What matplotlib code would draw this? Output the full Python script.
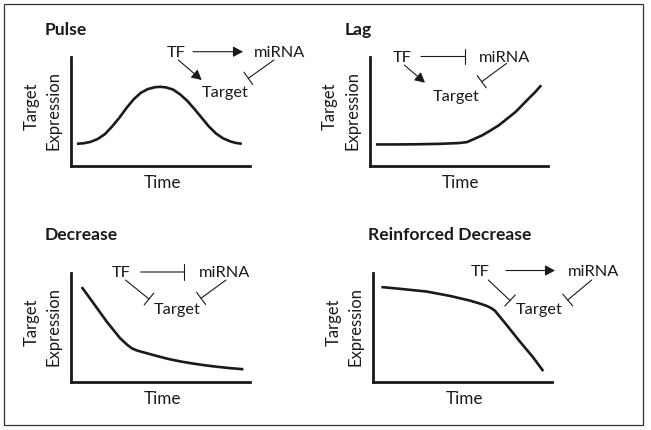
import matplotlib
matplotlib.use('Agg')
import matplotlib.pyplot as plt
from matplotlib.patches import Rectangle

plt.rcParams['font.family'] = ['Lato', 'DejaVu Sans']

W, H = 651, 430
ink = '#1a1a1a'

# curves, time and expression as fractions of each axes
pulse_t = [0.033, 0.07, 0.11, 0.15, 0.19, 0.23, 0.27, 0.31, 0.35, 0.39, 0.43, 0.47, 0.50,
           0.53, 0.57, 0.61, 0.65, 0.69, 0.73, 0.77, 0.81, 0.85, 0.89, 0.92, 0.954]
pulse_y = [0.200, 0.205, 0.218, 0.245, 0.29, 0.36, 0.44, 0.53, 0.61, 0.67, 0.705, 0.722, 0.725,
           0.72, 0.70, 0.655, 0.595, 0.52, 0.44, 0.36, 0.295, 0.25, 0.222, 0.208, 0.200]

lag_t = [0.036, 0.15, 0.283, 0.40, 0.50, 0.545, 0.58, 0.63, 0.67, 0.723, 0.77, 0.817,
         0.855, 0.891, 0.93, 0.962]
lag_y = [0.194, 0.194, 0.196, 0.200, 0.207, 0.215, 0.24, 0.277, 0.315, 0.369, 0.43, 0.492,
         0.555, 0.616, 0.68, 0.739]

dec_t = [0.060, 0.125, 0.199, 0.274, 0.315, 0.339, 0.37, 0.423, 0.49, 0.553, 0.62, 0.683,
         0.75, 0.814, 0.89, 0.963]
dec_y = [0.871, 0.724, 0.555, 0.402, 0.34, 0.310, 0.288, 0.264, 0.234, 0.208, 0.186, 0.169,
         0.153, 0.140, 0.127, 0.117]

rd_t = [0.047, 0.168, 0.299, 0.429, 0.541, 0.60, 0.635, 0.66, 0.681, 0.747, 0.821, 0.895, 0.951]
rd_y = [0.871, 0.852, 0.830, 0.790, 0.747, 0.718, 0.698, 0.678, 0.654, 0.522, 0.37, 0.225, 0.10]

titles = ['Pulse', 'Lag', 'Decrease', 'Reinforced Decrease']
curves = [(pulse_t, pulse_y), (lag_t, lag_y), (dec_t, dec_y), (rd_t, rd_y)]
# axes box in pixels: left, right, bottom, top
boxes = [(71, 250, 165.5, 57), (369.5, 548, 165.5, 57),
         (71, 250, 382, 273), (373, 552, 382, 273)]
title_pos = [(45, 35), (345, 35), (45, 240), (368, 240)]

fig = plt.figure(figsize=(W / 100, H / 100), dpi=100)
canvas = fig.add_axes([0, 0, 1, 1])
canvas.set_xlim(0, W)
canvas.set_ylim(H, 0)
canvas.axis('off')
canvas.add_patch(Rectangle((4, 4), 639, 421, fill=False, ec='#333333', lw=0.9))

for (t, y), (x0, x1, yb, yt), name, (tx, ty) in zip(curves, boxes, titles, title_pos):
    ax = fig.add_axes([x0 / W, (H - yb) / H, (x1 - x0) / W, (yb - yt) / H])
    ax.patch.set_alpha(0)
    ax.plot(t, y, color=ink, lw=1.9, solid_capstyle='butt')
    ax.set_xlim(0, 1)
    ax.set_ylim(0, 1)
    ax.set_xticks([])
    ax.set_yticks([])
    for s in ['top', 'right']:
        ax.spines[s].set_visible(False)
    for s in ['left', 'bottom']:
        ax.spines[s].set_linewidth(2)
        ax.spines[s].set_color(ink)
        ax.spines[s].set_capstyle('projecting')
    canvas.text(tx, ty, name, fontsize=12.6, fontweight='bold', color=ink, ha='left', va='baseline')
    canvas.text((x0 + x1) / 2 + 2, yb + 22, 'Time', fontsize=12.3, color=ink, ha='center', va='baseline')
    mid = (yb + yt) / 2
    canvas.text(x0 - 34.5, mid - 5, 'Target', fontsize=12, color=ink, rotation=90,
                rotation_mode='anchor', ha='center', va='baseline')
    canvas.text(x0 - 12.3, mid - 1, 'Expression', fontsize=12, color=ink, rotation=90,
                rotation_mode='anchor', ha='center', va='baseline')


def label(x, y, s):
    canvas.text(x, y, s, fontsize=11.8, color=ink, ha='center', va='baseline')


def arrow(p0, p1):
    canvas.annotate('', xy=p1, xytext=p0,
                    arrowprops=dict(arrowstyle='-|>,head_length=0.6,head_width=0.32',
                                    color=ink, lw=0.8, shrinkA=0, shrinkB=0, mutation_scale=10))


def inhibit(p0, p1):
    canvas.annotate('', xy=p1, xytext=p0,
                    arrowprops=dict(arrowstyle='|-|,widthA=0,widthB=0.55',
                                    color=ink, lw=0.8, shrinkA=0, shrinkB=0, mutation_scale=10))


# Pulse
label(176, 56.7, 'TF')
label(280, 56.7, 'miRNA')
label(225.5, 96.7, 'Target')
arrow((193, 51.7), (243, 51.7))
arrow((178.3, 60), (201.7, 80))
inhibit((274, 60), (248.3, 78.3))

# Lag
label(402, 61.7, 'TF')
label(505, 61.7, 'miRNA')
label(456, 101.5, 'Target')
inhibit((421, 56.5), (465, 56.5))
arrow((404.3, 65), (425, 82.7))
inhibit((506.7, 63.3), (481.7, 81.7))

# Decrease
label(121.3, 276.7, 'TF')
label(225, 276.7, 'miRNA')
label(177.3, 314, 'Target')
inhibit((140.7, 272), (184, 272))
inhibit((125.5, 280), (149, 299))
inhibit((226, 280), (201, 298.3))

# Reinforced Decrease
label(480, 275.7, 'TF')
label(593.3, 275.7, 'miRNA')
label(539, 314, 'Target')
arrow((506, 270.5), (555, 270.5))
inhibit((488.3, 280), (510, 300.5))
inhibit((591.7, 280), (567.7, 300))

fig.savefig('out.png', dpi=100)
